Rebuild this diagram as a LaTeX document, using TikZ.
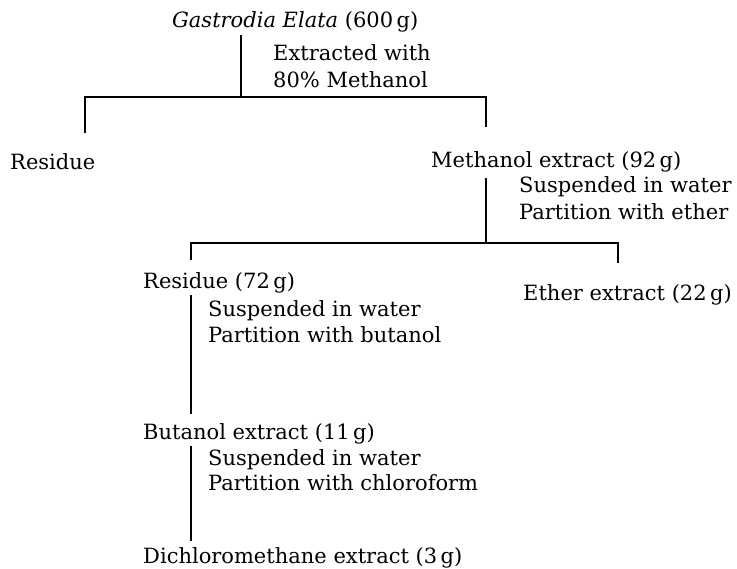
\documentclass[tikz,border=0pt]{standalone}
\usepackage{fontspec}
\setmainfont{DejaVu Serif}
\begin{document}
\begin{tikzpicture}[x=1pt,y=-1pt,
  lbl/.style={anchor=base west,inner sep=0pt,font=\fontsize{21}{25}\selectfont},
  conn/.style={draw=black,line width=1.2pt}]
\useasboundingbox (0,0) rectangle (737,569);
% texts
\node[lbl] (gas)   at (172,28)  {\textit{Gastrodia Elata} (600\,g)};
\node[lbl] (ext1)  at (273,61)  {Extracted with};
\node[lbl] (ext2)  at (273,88)  {80\% Methanol};
\node[lbl] (res1)  at (10,170)  {Residue};
\node[lbl] (meth)  at (431,168) {Methanol extract (92\,g)};
\node[lbl] (sus1)  at (519,193) {Suspended in water};
\node[lbl] (part1) at (519,220) {Partition with ether};
\node[lbl] (res2)  at (143,289) {Residue (72\,g)};
\node[lbl] (ether) at (523,301) {Ether extract (22\,g)};
\node[lbl] (sus2)  at (208,317) {Suspended in water};
\node[lbl] (part2) at (208,343) {Partition with butanol};
\node[lbl] (but)   at (143,439) {Butanol extract (11\,g)};
\node[lbl] (sus3)  at (208,466) {Suspended in water};
\node[lbl] (part3) at (208,490) {Partition with chloroform};
\node[lbl] (dich)  at (143,563) {Dichloromethane extract (3\,g)};
% connector points
\coordinate (a0) at (241,35);
\coordinate (a1) at (241,97);
\coordinate (bl1) at (85,97);
\coordinate (br1) at (486,97);
\coordinate (dl1) at (85,133);
\coordinate (dr1) at (486,127);
\coordinate (m0) at (486,178);
\coordinate (m1) at (486,243);
\coordinate (bl2) at (191,243);
\coordinate (br2) at (618,243);
\coordinate (dl2) at (191,260);
\coordinate (dr2) at (618,263);
\coordinate (r0) at (191,295);
\coordinate (r1) at (191,414);
\coordinate (u0) at (191,446);
\coordinate (u1) at (191,541);
% connectors
\draw[conn] (a0) -- (a1);
\draw[conn] (dl1) -- (bl1) -- (br1) -- (dr1);
\draw[conn] (m0) -- (m1);
\draw[conn] (dl2) -- (bl2) -- (br2) -- (dr2);
\draw[conn] (r0) -- (r1);
\draw[conn] (u0) -- (u1);
\end{tikzpicture}
\end{document}
